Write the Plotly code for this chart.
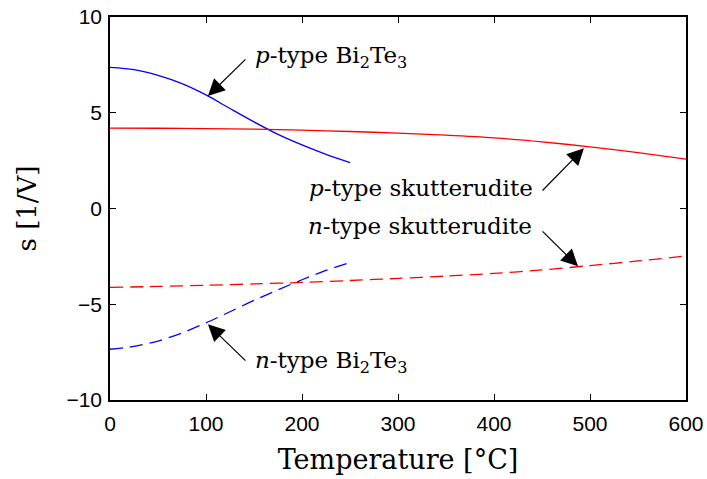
import plotly.graph_objects as go

# Temperature grid (°C)
t_bi = [0, 25, 50, 75, 100, 125, 150, 175, 200, 225, 250]
t_sk = [0, 50, 100, 150, 200, 250, 300, 350, 400, 450, 500, 550, 600]

# Series values (1/V)
p_bi2te3 = [7.37, 7.25, 6.95, 6.52, 5.93, 5.22, 4.52, 3.87, 3.32, 2.83, 2.40]
n_bi2te3 = [-7.35, -7.20, -6.92, -6.50, -5.97, -5.39, -4.80, -4.25, -3.72, -3.23, -2.82]
p_skut = [4.20, 4.19, 4.17, 4.14, 4.09, 4.02, 3.94, 3.83, 3.69, 3.48, 3.22, 2.92, 2.58]
n_skut = [-4.12, -4.07, -4.01, -3.94, -3.86, -3.76, -3.65, -3.53, -3.39, -3.21, -2.98, -2.74, -2.48]

x_ticks = [0, 100, 200, 300, 400, 500, 600]
y_ticks = [-10, -5, 0, 5, 10]
y_ticklabels = ["\u221210", "\u22125", "0", "5", "10"]

fig = go.Figure()
fig.add_trace(go.Scatter(x=t_bi, y=p_bi2te3, mode="lines", line=dict(color="#0000ff", width=1.3, shape="spline", smoothing=0.8)))
fig.add_trace(go.Scatter(x=t_sk, y=p_skut, mode="lines", line=dict(color="#ff0000", width=1.3, shape="spline", smoothing=0.8)))
fig.add_trace(go.Scatter(x=t_sk, y=n_skut, mode="lines", line=dict(color="#ff0000", width=1.3, dash="13px,7px", shape="spline", smoothing=0.8)))
fig.add_trace(go.Scatter(x=t_bi, y=n_bi2te3, mode="lines", line=dict(color="#0000ff", width=1.3, dash="13px,7px", shape="spline", smoothing=0.8)))

serif = "DejaVu Serif"
afont = dict(family=serif, size=23, color="black")

arrows = [
    (102, 5.87, 142.7, 7.86),
    (493.7, 3.15, 449, 0.86),
    (487.5, -3.02, 449, -1.12),
    (102, -6.05, 142.7, -8.02),
]
for hx, hy, tx, ty in arrows:
    fig.add_annotation(x=hx, y=hy, ax=tx, ay=ty, axref="x", ayref="y", xref="x", yref="y",
                       text="", showarrow=True, arrowhead=2, arrowsize=2.8, arrowwidth=1.2,
                       arrowcolor="black", standoff=0, startstandoff=0)

labels = [
    ("<i>p</i>-type Bi<sub>2</sub>Te<sub>3</sub>", 149, 7.91, "left"),
    ("<i>p</i>-type skutterudite", 442.7, 1.07, "right"),
    ("<i>n</i>-type skutterudite", 441.7, -0.91, "right"),
    ("<i>n</i>-type Bi<sub>2</sub>Te<sub>3</sub>", 149, -8.02, "left"),
]
for txt, x, y, anc in labels:
    fig.add_annotation(x=x, y=y, xref="x", yref="y", text=txt, showarrow=False,
                       xanchor=anc, yanchor="middle", font=afont)

axis_common = dict(showgrid=False, zeroline=False, showline=True, linecolor="black", linewidth=1.5,
                   mirror="allticks", ticks="inside", ticklen=6, tickwidth=1.2, tickcolor="black",
                   automargin=False,
                   tickfont=dict(family="Liberation Sans", size=21, color="black"))

fig.update_xaxes(range=[0, 600], tickvals=x_ticks, ticktext=[str(v) for v in x_ticks],
                 ticklabelstandoff=4,
                 title=dict(text="Temperature [°C]", font=dict(family=serif, size=27, color="black"), standoff=16),
                 **axis_common)
fig.update_yaxes(range=[-10, 10], tickvals=y_ticks, ticktext=y_ticklabels,
                 ticklabelstandoff=2,
                 title=dict(text="s [1/V]", font=dict(family=serif, size=26, color="black"), standoff=22),
                 **axis_common)

fig.update_layout(width=707, height=479, margin=dict(l=110, r=21, t=17, b=79),
                  paper_bgcolor="white", plot_bgcolor="white", showlegend=False)

fig.write_html("out.html")
